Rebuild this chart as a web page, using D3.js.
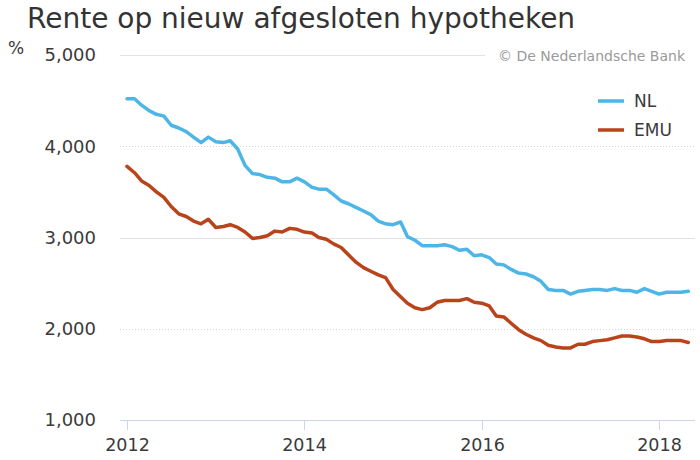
<!DOCTYPE html>
<html><head><meta charset="utf-8">
<script src="https://cdn.jsdelivr.net/npm/d3@7"></script>
<style>
html,body{margin:0;padding:0;background:#fff;}
svg{display:block;font-family:"DejaVu Sans",Verdana,sans-serif;}
</style></head>
<body><svg id="c" width="700" height="460"></svg>
<script>
const title = "Rente op nieuw afgesloten hypotheken";
const credit = "© De Nederlandsche Bank";
const unitLabel = "%";
const seriesNames = ["NL", "EMU"];
const seriesColors = ["#4db6e6", "#b9441b"];
// monthly, Jan 2012 .. May 2018
const months = d3.timeMonth.range(new Date(2012, 0, 1), new Date(2018, 5, 1));
const nl = [4.52,4.52,4.45,4.39,4.35,4.33,4.23,4.20,4.16,4.10,4.04,4.10,
            4.05,4.04,4.06,3.97,3.79,3.70,3.69,3.66,3.65,3.61,3.61,3.65,
            3.61,3.55,3.53,3.53,3.47,3.40,3.37,3.33,3.29,3.25,3.18,3.15,
            3.14,3.17,3.01,2.97,2.91,2.91,2.91,2.92,2.90,2.86,2.87,2.80,
            2.81,2.78,2.71,2.70,2.65,2.61,2.60,2.57,2.52,2.43,2.42,2.42,
            2.38,2.41,2.42,2.43,2.43,2.42,2.44,2.42,2.42,2.40,2.44,2.41,
            2.38,2.40,2.40,2.40,2.41];
const emu = [3.78,3.71,3.62,3.57,3.50,3.44,3.34,3.26,3.23,3.18,3.15,3.20,
             3.11,3.12,3.14,3.11,3.06,2.99,3.00,3.02,3.07,3.06,3.10,3.09,
             3.06,3.05,3.00,2.98,2.93,2.89,2.81,2.73,2.67,2.63,2.59,2.56,
             2.43,2.35,2.28,2.23,2.21,2.23,2.29,2.31,2.31,2.31,2.33,2.29,
             2.28,2.25,2.14,2.13,2.06,1.99,1.94,1.90,1.87,1.82,1.80,1.79,
             1.79,1.83,1.83,1.86,1.87,1.88,1.90,1.92,1.92,1.91,1.89,1.86,
             1.86,1.87,1.87,1.87,1.85];
const yTicks = [1, 2, 3, 4, 5];
const xTicks = [2012, 2014, 2016, 2018];

const svg = d3.select("#c");
const plotLeft = 120, plotRight = 695;
const x = d3.scaleTime().domain([new Date(2012,0,1), new Date(2018,0,1)]).range([127, 659.2]);
const y = d3.scaleLinear().domain([1, 5]).range([420, 55]);
const nlFmt = d3.formatLocale({decimal: ",", thousands: ".", grouping: [3], currency: ["€", ""]}).format(".3f");

// title
svg.append("text").attr("x", 27).attr("y", 28).attr("font-size", 28).attr("fill", "#333")
  .text(title);

// gridlines
yTicks.forEach((t, i) => {
  if (t === 1) return;
  const minor = (t % 2 === 0);
  svg.append("line").attr("x1", plotLeft).attr("x2", t === 5 ? 485 : plotRight)
    .attr("y1", Math.round(y(t)) + 0.5).attr("y2", Math.round(y(t)) + 0.5)
    .attr("stroke", minor ? "#d4d4d4" : "#e2e2e2").attr("stroke-width", 1)
    .attr("stroke-dasharray", minor ? "1,2" : null);
});

// y labels
svg.append("g").selectAll("text").data(yTicks).join("text")
  .attr("x", 96).attr("y", d => y(d)).attr("dy", "0.36em")
  .attr("text-anchor", "end").attr("font-size", 18).attr("fill", "#3a3a3a")
  .text(d => nlFmt(d));
svg.append("text").attr("x", 8).attr("y", 54).attr("font-size", 17).attr("fill", "#3a3a3a").text(unitLabel);

// credit
svg.append("text").attr("x", 685).attr("y", 56).attr("dy", "0.35em").attr("text-anchor", "end")
  .attr("font-size", 14).attr("fill", "#9a9a9a").text(credit);

// x axis
const xa = svg.append("g").attr("transform", "translate(0,420)");
xa.append("line").attr("x1", plotLeft).attr("x2", plotRight).attr("y1", 0.5).attr("y2", 0.5)
  .attr("stroke", "#ccd6eb");
const xt = xa.selectAll("g").data(xTicks).join("g")
  .attr("transform", d => `translate(${Math.round(x(new Date(d,0,1)))+0.5},0)`);
xt.append("line").attr("y1", 0).attr("y2", 10).attr("stroke", "#ccd6eb");
xt.append("text").attr("y", 31).attr("text-anchor", "middle").attr("font-size", 17.5)
  .attr("fill", "#3a3a3a").text(d => d);

// lines
const line = d3.line().x((d, i) => x(months[i])).y(d => y(d)).curve(d3.curveLinear);
[nl, emu].forEach((s, k) => {
  svg.append("path").datum(s).attr("d", line).attr("fill", "none")
    .attr("stroke", seriesColors[k]).attr("stroke-width", 3.5)
    .attr("stroke-linejoin", "round").attr("stroke-linecap", "round");
});

// legend
const lg = svg.append("g").selectAll("g").data(seriesNames).join("g")
  .attr("transform", (d, i) => `translate(598,${101 + i * 29})`);
lg.append("line").attr("x1", 0).attr("x2", 26).attr("stroke", (d, i) => seriesColors[i]).attr("stroke-width", 3.5);
lg.append("text").attr("x", 36).attr("dy", "0.36em").attr("font-size", 17).attr("fill", "#3a3a3a").text(d => d);
</script></body></html>
